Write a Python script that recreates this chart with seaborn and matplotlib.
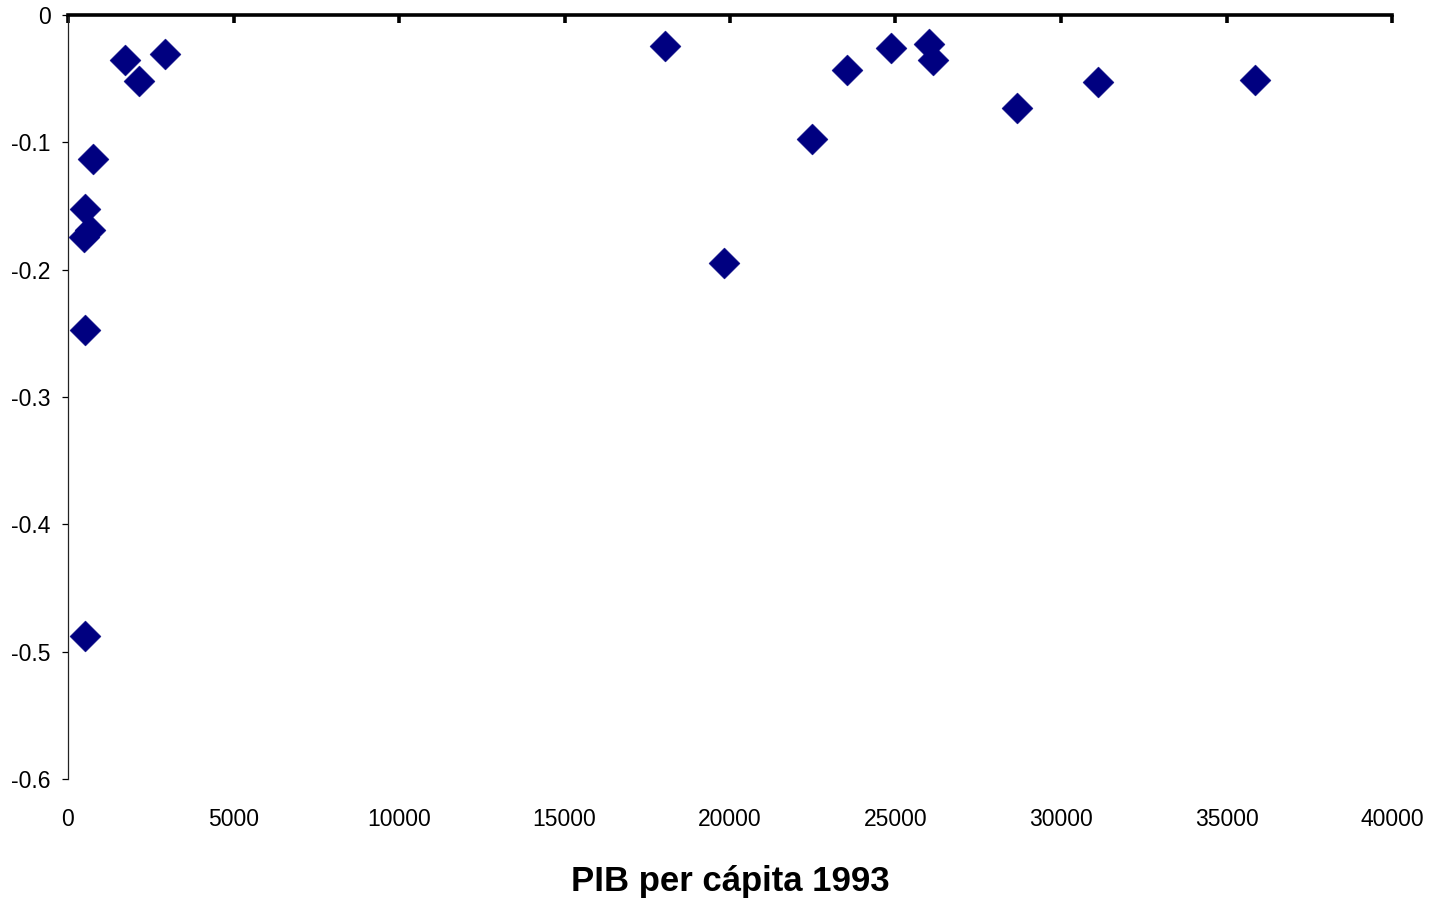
import matplotlib
matplotlib.use("Agg")
import matplotlib.pyplot as plt
import seaborn as sns
import pandas as pd

# GDP per capita (1993) and the corresponding indicator value for each country
gdp_1993 = [1720, 2145, 2930, 755, 515, 665, 485, 515, 515,
            18040, 19820, 22480, 23540, 24860, 26010, 26130, 28670, 31120, 35860]
indicator = [-0.035, -0.052, -0.031, -0.113, -0.152, -0.169, -0.174, -0.247, -0.488,
             -0.024, -0.195, -0.097, -0.043, -0.026, -0.023, -0.035, -0.073, -0.053, -0.051]

x_ticks = [0, 5000, 10000, 15000, 20000, 25000, 30000, 35000, 40000]
y_ticks = [0, -0.1, -0.2, -0.3, -0.4, -0.5, -0.6]
y_tick_labels = ["0", "-0.1", "-0.2", "-0.3", "-0.4", "-0.5", "-0.6"]
x_label = "PIB per cápita 1993"

df = pd.DataFrame({"pib": gdp_1993, "valor": indicator})

sns.set_style("white")
plt.rcParams["font.family"] = ["Liberation Sans", "DejaVu Sans"]
plt.rcParams["axes.unicode_minus"] = False

fig = plt.figure(figsize=(14.46, 9.01), dpi=100)
ax = fig.add_axes([68 / 1446, 1 - 779 / 901, (1392 - 68) / 1446, (779 - 15) / 901])

sns.scatterplot(data=df, x="pib", y="valor", marker="D", s=250,
                color="#000080", edgecolor="#000080", linewidth=0.3, ax=ax, zorder=3)

ax.set_xlim(0, 40000)
ax.set_ylim(-0.6, 0)
ax.set_xticks(x_ticks)
ax.set_xticklabels([str(v) for v in x_ticks])
ax.set_yticks(y_ticks)
ax.set_yticklabels(y_tick_labels)

# The zero line runs along the top as a heavy axis; labels sit below the plot
for side in ("right", "bottom"):
    ax.spines[side].set_visible(False)
ax.spines["top"].set_linewidth(2.6)
ax.spines["top"].set_color("black")
ax.spines["left"].set_linewidth(0.9)
ax.spines["left"].set_color("#222222")

ax.tick_params(axis="x", which="major", top=True, bottom=False, labeltop=False,
               labelbottom=True, direction="in", length=5.5, width=2.6,
               pad=21, labelsize=16.5, colors="black")
ax.tick_params(axis="y", which="major", left=True, direction="out", length=4.5,
               width=0.9, pad=8, labelsize=16.5, colors="black")

ax.set_xlabel(x_label, fontsize=25, fontweight="bold", labelpad=24, color="black")
ax.set_ylabel("")
ax.grid(False)

fig.savefig("out.png", dpi=100, facecolor="white")
